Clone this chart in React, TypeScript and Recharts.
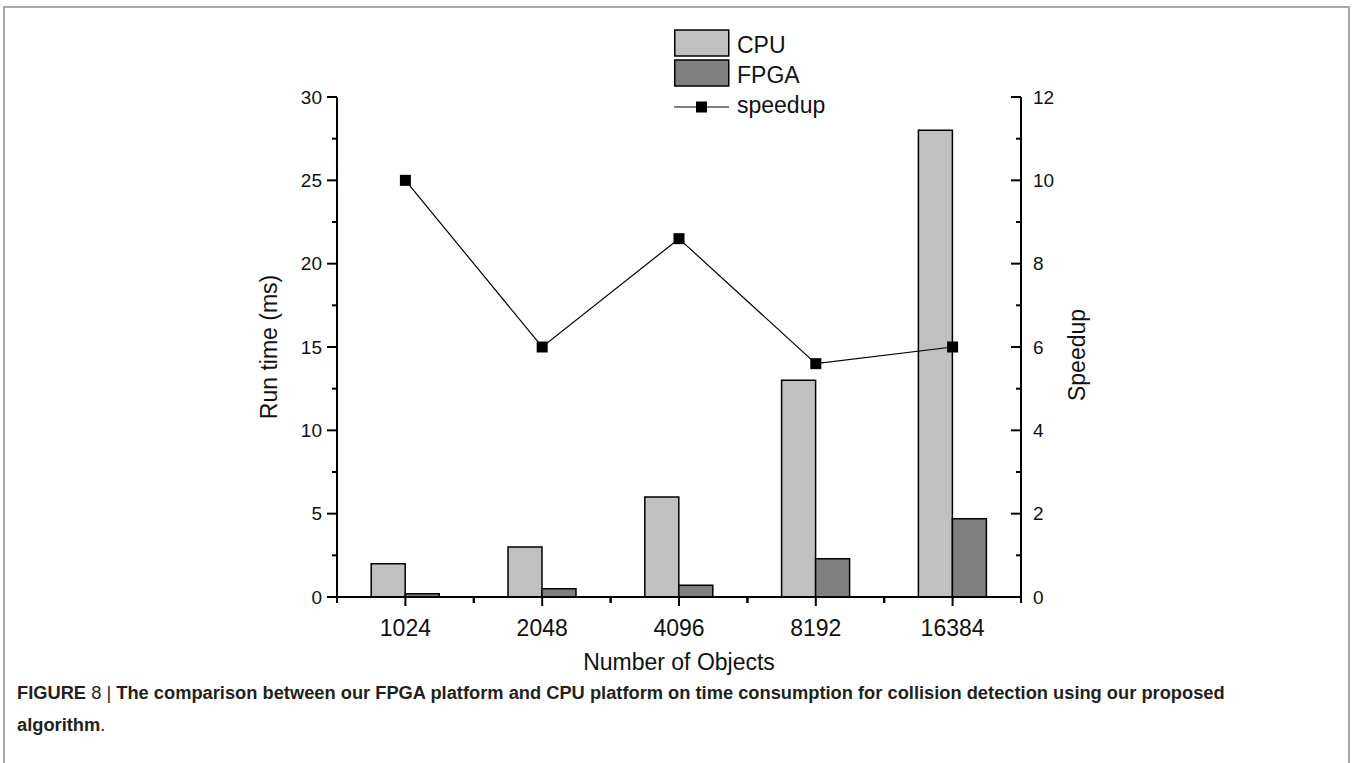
import {
  Bar,
  ComposedChart,
  Label,
  Legend,
  Line,
  XAxis,
  YAxis,
} from "recharts"

// values
const objectCounts = ["1024", "2048", "4096", "8192", "16384"]
const cpuTimes = [2, 3, 6, 13, 28]
const fpgaTimes = [0.2, 0.5, 0.7, 2.3, 4.7]
const speedups = [10, 6, 8.6, 5.6, 6]
const runTimeTicks = [0, 2.5, 5, 7.5, 10, 12.5, 15, 17.5, 20, 22.5, 25, 27.5, 30]
const speedupTicks = [0, 1, 2, 3, 4, 5, 6, 7, 8, 9, 10, 11, 12]

const data = objectCounts.map((name, i) => ({
  name,
  cpu: cpuTimes[i],
  fpga: fpgaTimes[i],
  speedup: speedups[i],
}))

const FONT = "'Liberation Sans', Arial, Helvetica, sans-serif"

function LeftTick(props: any) {
  const { x, y, payload } = props
  const major = payload.value % 5 === 0
  return (
    <g>
      <line x1={x} x2={x - (major ? 10 : 5)} y1={y} y2={y} stroke="#000" strokeWidth={2} />
      {major && (
        <text x={x - 15} y={y} dy="0.35em" textAnchor="end" fontSize={19} fontFamily={FONT} fill="#111">
          {payload.value}
        </text>
      )}
    </g>
  )
}

function RightTick(props: any) {
  const { x, y, payload } = props
  const major = payload.value % 2 === 0
  return (
    <g>
      <line x1={x} x2={x - (major ? 10 : 5)} y1={y} y2={y} stroke="#000" strokeWidth={2} />
      {major && (
        <text x={x + 12} y={y} dy="0.35em" textAnchor="start" fontSize={19} fontFamily={FONT} fill="#111">
          {payload.value}
        </text>
      )}
    </g>
  )
}

function BottomTick(props: any) {
  const { x, y, payload } = props
  const half = payload.offset || 0
  return (
    <g>
      <line x1={x} x2={x} y1={y} y2={y + 9} stroke="#000" strokeWidth={2} />
      <line x1={x - half} x2={x - half} y1={y} y2={y + 6} stroke="#000" strokeWidth={2} />
      <line x1={x + half} x2={x + half} y1={y} y2={y + 6} stroke="#000" strokeWidth={2} />
      <text x={x} y={y + 39} textAnchor="middle" fontSize={23} fontFamily={FONT} fill="#111">
        {payload.value}
      </text>
    </g>
  )
}

function SquareDot(props: any) {
  const { cx, cy, index } = props
  return <rect key={`sq-${index}`} x={cx - 5.5} y={cy - 5.5} width={11} height={11} fill="#000" />
}

function LegendBox(props: any) {
  const items = props.payload || []
  return (
    <svg width={220} height={100} style={{ display: "block" }}>
      {items.map((item: any, i: number) => {
        const top = 4 + i * 30
        if (item.type === "line") {
          return (
            <g key={item.value}>
              <line x1={0} x2={55} y1={81} y2={81} stroke="#000" strokeWidth={1.2} />
              <rect x={22} y={75.5} width={11} height={11} fill="#000" />
              <text x={63} y={87} fontSize={23} fontFamily={FONT} fill="#111">
                {item.value}
              </text>
            </g>
          )
        }
        return (
          <g key={item.value}>
            <rect x={0.75} y={top} width={54} height={26} fill={item.color} stroke="#000" strokeWidth={1.5} />
            <text x={63} y={top + 23} fontSize={23} fontFamily={FONT} fill="#111">
              {item.value}
            </text>
          </g>
        )
      })}
    </svg>
  )
}

export default function App() {
  return (
    <div style={{ position: "absolute", left: 0, top: 0, width: 1355, height: 763, background: "#fff", overflow: "hidden" }}>
      <div
        style={{
          position: "absolute",
          left: 3,
          top: 6,
          width: 1343,
          height: 800,
          border: "2px solid #a8a8a8",
          borderBottom: "none",
        }}
      />
      <div style={{ position: "absolute", left: 0, top: 0 }}>
        <ComposedChart
          width={1355}
          height={763}
          data={data}
          margin={{ top: 97, right: 254, left: 257, bottom: 86 }}
          barCategoryGap="25%"
          barGap={0}
        >
          <XAxis
            dataKey="name"
            height={80}
            axisLine={{ stroke: "#000", strokeWidth: 2 }}
            tickLine={false}
            tickSize={0}
            tickMargin={0}
            interval={0}
            tick={<BottomTick />}
          >
            <Label
              content={(p: any) => {
                const vb = p.viewBox || { x: 337, y: 597, width: 684 }
                return (
                  <text x={vb.x + vb.width / 2} y={vb.y + 73} textAnchor="middle" fontSize={23} fontFamily={FONT} fill="#111">
                    Number of Objects
                  </text>
                )
              }}
            />
          </XAxis>
          <YAxis
            yAxisId="left"
            width={80}
            domain={[0, 30]}
            ticks={runTimeTicks}
            interval={0}
            axisLine={{ stroke: "#000", strokeWidth: 2 }}
            tickLine={false}
            tickSize={0}
            tickMargin={0}
            tick={<LeftTick />}
          >
            <Label
              content={(p: any) => {
                const vb = p.viewBox || { x: 257, y: 97, height: 500 }
                const cx = vb.x + 12
                const cy = vb.y + vb.height / 2
                return (
                  <text x={cx} y={cy} textAnchor="middle" dominantBaseline="central" transform={`rotate(-90 ${cx} ${cy})`} fontSize={23} fontFamily={FONT} fill="#111">
                    Run time (ms)
                  </text>
                )
              }}
            />
          </YAxis>
          <YAxis
            yAxisId="right"
            orientation="right"
            width={80}
            domain={[0, 12]}
            ticks={speedupTicks}
            interval={0}
            axisLine={{ stroke: "#000", strokeWidth: 2 }}
            tickLine={false}
            tickSize={0}
            tickMargin={0}
            tick={<RightTick />}
          >
            <Label
              content={(p: any) => {
                const vb = p.viewBox || { x: 1021, y: 97, height: 500 }
                const cx = vb.x + 56
                const cy = vb.y + vb.height / 2 + 8
                return (
                  <text x={cx} y={cy} textAnchor="middle" dominantBaseline="central" transform={`rotate(-90 ${cx} ${cy})`} fontSize={23} fontFamily={FONT} fill="#111">
                    Speedup
                  </text>
                )
              }}
            />
          </YAxis>
          <Legend
            layout="vertical"
            align="center"
            verticalAlign="middle"
            content={<LegendBox />}
            wrapperStyle={{ position: "absolute", top: 26, left: 674, width: 220, height: 100 }}
          />
          <Bar yAxisId="left" dataKey="cpu" name="CPU" fill="#c0c0c0" stroke="#000" strokeWidth={1.5} legendType="rect" isAnimationActive={false} />
          <Bar yAxisId="left" dataKey="fpga" name="FPGA" fill="#808080" stroke="#000" strokeWidth={1.5} legendType="rect" isAnimationActive={false} />
          <Line
            yAxisId="right"
            dataKey="speedup"
            name="speedup"
            type="linear"
            stroke="#000"
            strokeWidth={1.2}
            dot={SquareDot}
            activeDot={false}
            legendType="line"
            isAnimationActive={false}
          />
        </ComposedChart>
      </div>
      <div
        style={{
          position: "absolute",
          left: 17,
          top: 677,
          width: 1250,
          fontFamily: FONT,
          fontSize: 18.3,
          lineHeight: "32px",
          color: "#231f20",
          fontWeight: 700,
        }}
      >
        FIGURE <span style={{ fontWeight: 400 }}>8 | </span>The comparison between our FPGA platform and CPU platform on time consumption for collision detection using our proposed algorithm<span style={{ fontWeight: 400 }}>.</span>
      </div>
    </div>
  )
}
